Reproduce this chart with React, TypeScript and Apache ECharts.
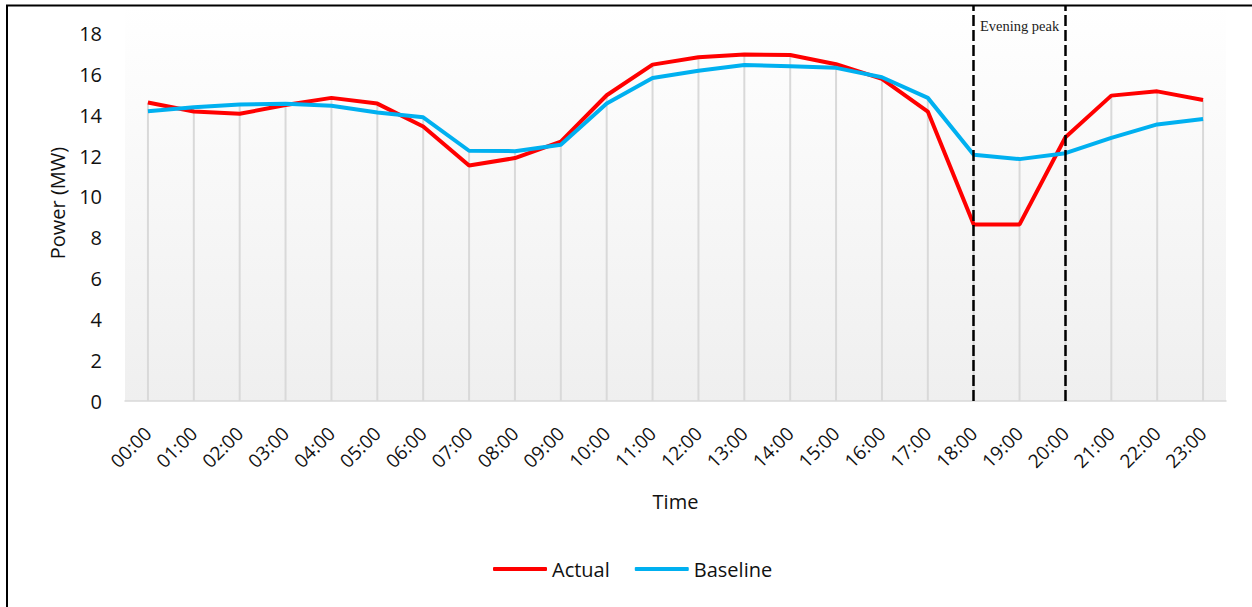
import React, { useEffect, useRef } from "react";
import * as echarts from "echarts";

const categories = [
  "00:00", "01:00", "02:00", "03:00", "04:00", "05:00", "06:00", "07:00",
  "08:00", "09:00", "10:00", "11:00", "12:00", "13:00", "14:00", "15:00",
  "16:00", "17:00", "18:00", "19:00", "20:00", "21:00", "22:00", "23:00",
];

const actual = [
  14.62, 14.18, 14.07, 14.5, 14.85, 14.57, 13.45, 11.54, 11.9, 12.71, 14.98, 16.48,
  16.84, 16.97, 16.95, 16.5, 15.78, 14.18, 8.65, 8.65, 12.92, 14.96, 15.17, 14.75,
];

const baseline = [
  14.2, 14.39, 14.52, 14.56, 14.46, 14.13, 13.9, 12.26, 12.24, 12.55, 14.57, 15.82,
  16.18, 16.46, 16.4, 16.32, 15.86, 14.85, 12.06, 11.85, 12.14, 12.89, 13.55, 13.82,
];

const peakStart = "18:00";
const peakEnd = "20:00";
const peakLabel = "Evening peak";

const FONT = "'Open Sans', sans-serif";

export default function App() {
  const ref = useRef<HTMLDivElement>(null);

  useEffect(() => {
    if (!ref.current) return;
    const chart = echarts.init(ref.current, null, { renderer: "svg" });
    const dropLines = actual.map((v, i) => Math.max(v, baseline[i]));

    chart.setOption({
      animation: false,
      backgroundColor: "#ffffff",
      textStyle: { fontFamily: FONT },
      graphic: [
        {
          type: "line",
          shape: { x1: 7, y1: 5, x2: 7, y2: 607 },
          style: { stroke: "#000", lineWidth: 2 },
          z: 100,
        },
        {
          type: "line",
          shape: { x1: 6, y1: 5.5, x2: 1252, y2: 5.5 },
          style: { stroke: "#000", lineWidth: 2 },
          z: 100,
        },
      ],
      grid: {
        left: 125,
        right: 26,
        top: 5,
        bottom: 206,
        show: true,
        borderWidth: 0,
        backgroundColor: new echarts.graphic.LinearGradient(0, 0, 0, 1, [
          { offset: 0, color: "#ffffff" },
          { offset: 1, color: "#efefef" },
        ]),
      },
      legend: {
        data: ["Actual", "Baseline"],
        bottom: 23,
        left: 488,
        icon: "roundRect",
        itemWidth: 54,
        itemHeight: 4,
        itemGap: 25,
        textStyle: { fontSize: 20, color: "#111", fontFamily: FONT },
      },
      xAxis: {
        type: "category",
        data: categories,
        boundaryGap: true,
        name: "Time",
        nameLocation: "middle",
        nameGap: 90,
        nameTextStyle: { fontSize: 20, color: "#111", fontFamily: FONT },
        axisLine: { lineStyle: { color: "#d9d9d9", width: 1.5 } },
        axisTick: { show: false },
        axisLabel: {
          rotate: 45,
          margin: 29,
          fontSize: 19,
          color: "#111",
          fontFamily: FONT,
          interval: 0,
        },
        splitLine: { show: false },
      },
      yAxis: {
        type: "value",
        min: 0,
        max: 19.4,
        interval: 2,
        name: "Power (MW)",
        nameLocation: "middle",
        nameGap: 58,
        nameTextStyle: { fontSize: 20, color: "#111", fontFamily: FONT },
        axisLine: { show: false },
        axisTick: { show: false },
        splitLine: { show: false },
        axisLabel: {
          margin: 23,
          fontSize: 20,
          color: "#111",
          fontFamily: FONT,
          formatter: (v: number) => (v % 2 === 0 ? String(v) : ""),
        },
      },
      series: [
        {
          name: "drop",
          type: "bar",
          data: dropLines,
          barWidth: 2,
          silent: true,
          itemStyle: { color: "#d9d9d9" },
          z: 1,
        },
        {
          name: "Actual",
          type: "line",
          data: actual,
          symbol: "none",
          lineStyle: { color: "#ff0000", width: 4 },
          itemStyle: { color: "#ff0000" },
          z: 3,
          markLine: {
            silent: true,
            symbol: "none",
            label: { show: false },
            lineStyle: { color: "#000", width: 2.5, type: [11, 4] },
            data: [{ xAxis: peakStart }, { xAxis: peakEnd }],
          },
          markArea: {
            silent: true,
            itemStyle: { color: "rgba(0,0,0,0)" },
            label: {
              show: true,
              position: "insideTop",
              distance: 13,
              fontFamily: "'Liberation Serif', 'Times New Roman', serif",
              fontSize: 14.5,
              color: "#222",
            },
            data: [[{ xAxis: peakStart, name: peakLabel }, { xAxis: peakEnd }]],
          },
        },
        {
          name: "Baseline",
          type: "line",
          data: baseline,
          symbol: "none",
          lineStyle: { color: "#00b0f0", width: 4 },
          itemStyle: { color: "#00b0f0" },
          z: 4,
        },
      ],
    });

    return () => chart.dispose();
  }, []);

  return (
    <div
      ref={ref}
      style={{ position: "absolute", left: 0, top: 0, width: 1252, height: 607 }}
    />
  );
}
